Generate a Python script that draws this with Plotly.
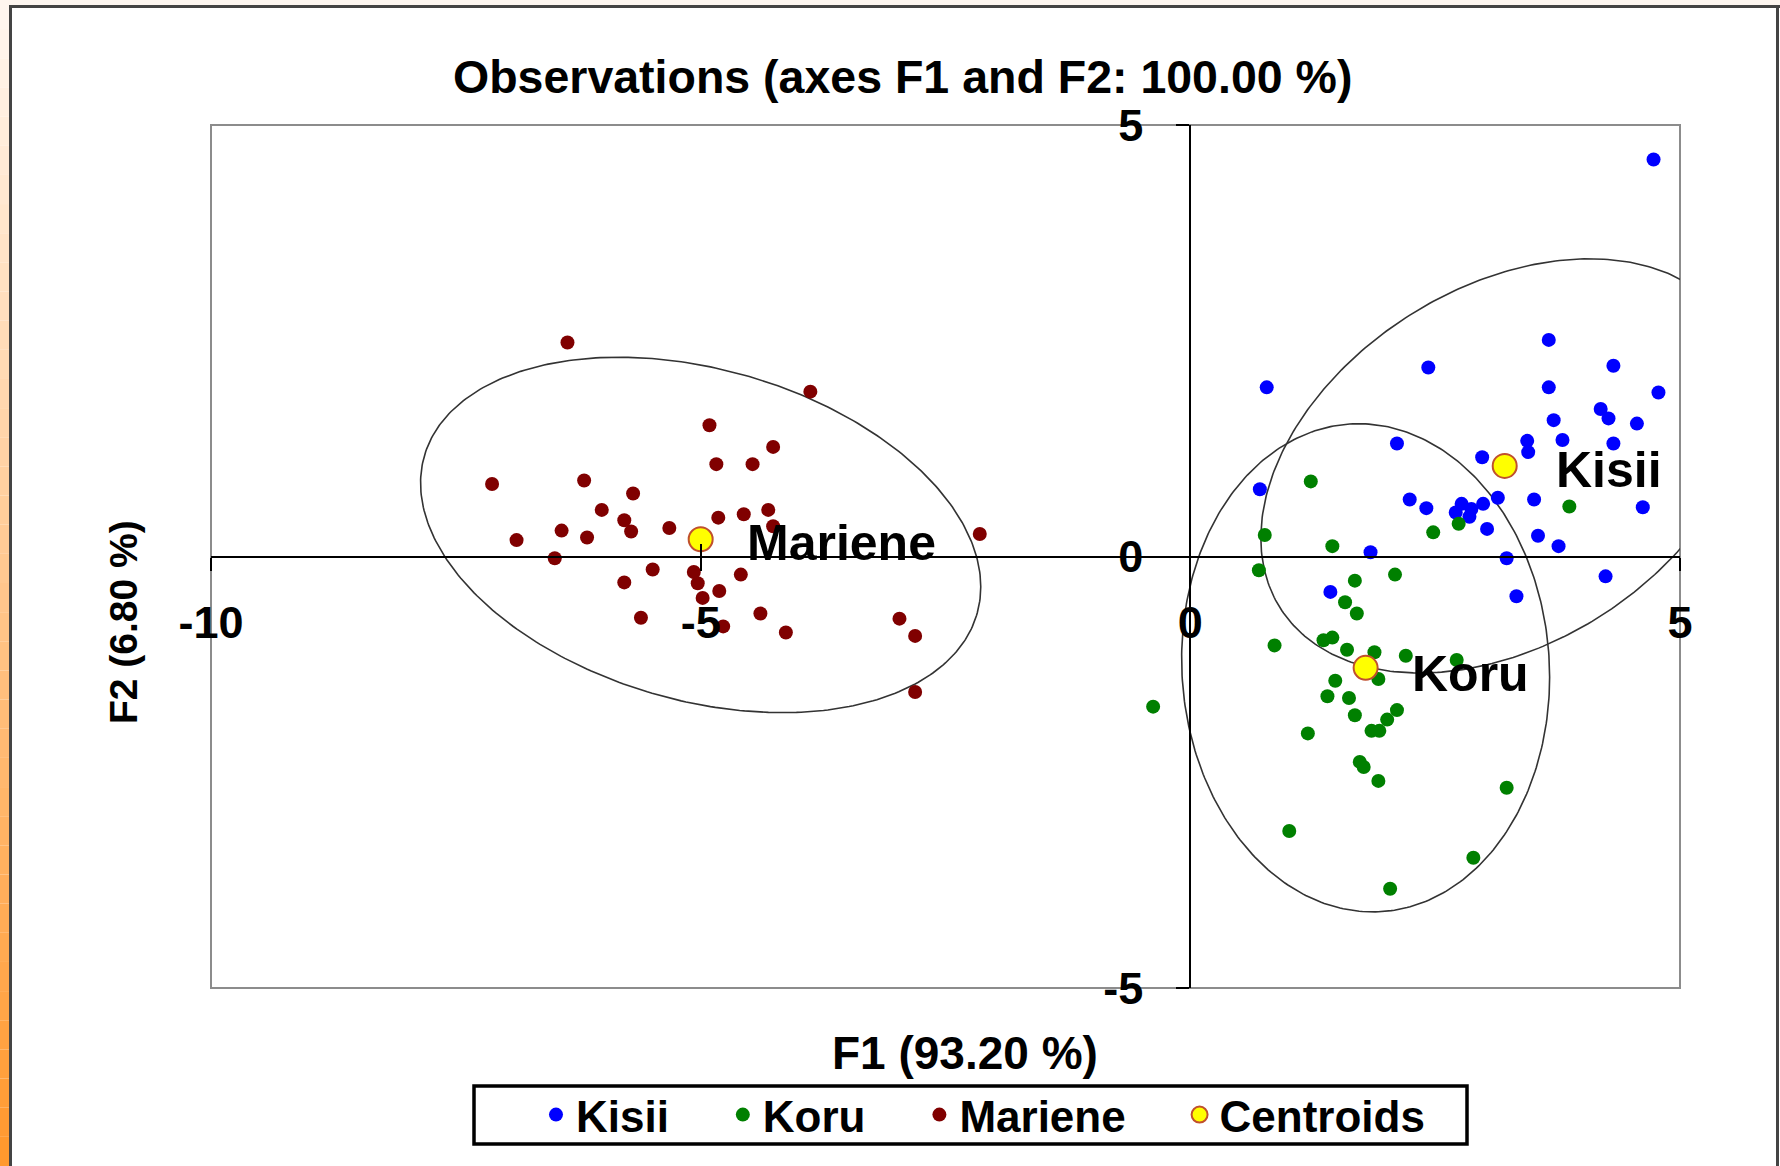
import numpy as np
import plotly.graph_objects as go

# ---------------- data ----------------
kisii_x = [4.73, 3.66, 2.43, 4.32, 0.78, 3.66, 4.78, 4.19, 4.27, 3.71, 4.56, 3.44, 3.80, 4.32, 2.11, 3.45,
           2.98, 0.71, 2.24, 2.41, 2.77, 2.87, 2.99, 2.71, 2.85, 3.14, 3.51, 4.62, 3.03, 3.55, 3.76, 1.84,
           3.23, 4.24, 1.43, 3.33]
kisii_y = [4.60, 2.51, 2.19, 2.21, 1.96, 1.96, 1.90, 1.71, 1.60, 1.58, 1.54, 1.34, 1.35, 1.31, 1.31, 1.21,
           1.15, 0.78, 0.66, 0.56, 0.61, 0.55, 0.61, 0.51, 0.46, 0.68, 0.66, 0.57, 0.32, 0.24, 0.12, 0.05,
           -0.02, -0.23, -0.41, -0.46]

koru_x = [1.23, 3.87, 2.74, 2.48, 0.76, 1.45, 0.70, 2.09, 1.68, 1.58, 1.70, 1.36, 1.45, 0.86, 1.60, 1.88,
          2.20, 2.72, 1.92, 1.48, 1.40, 1.62, 2.11, 1.68, 2.01, 1.85, 1.93, 1.20, -0.38, 1.73, 1.77, 1.92,
          3.23, 1.01, 2.89, 2.04]
koru_y = [0.87, 0.58, 0.38, 0.28, 0.25, 0.12, -0.16, -0.21, -0.28, -0.53, -0.66, -0.97, -0.94, -1.03, -1.08,
          -1.11, -1.15, -1.20, -1.42, -1.44, -1.62, -1.64, -1.78, -1.84, -1.89, -2.02, -2.02, -2.05, -1.74,
          -2.38, -2.44, -2.60, -2.68, -3.18, -3.49, -3.85]

mariene_x = [-6.36, -3.88, -4.91, -4.26, -4.84, -4.47, -7.13, -6.19, -5.69, -6.01, -5.78, -5.71, -6.42, -6.16,
             -6.88, -5.32, -4.82, -4.56, -4.31, -4.26, -2.15, -6.49, -5.49, -5.07, -4.59, -5.78, -5.03, -4.81,
             -4.98, -5.61, -4.39, -4.77, -4.13, -2.97, -2.81, -2.81]
mariene_y = [2.48, 1.91, 1.52, 1.27, 1.07, 1.07, 0.84, 0.88, 0.73, 0.54, 0.42, 0.29, 0.30, 0.22, 0.19, 0.33,
             0.45, 0.49, 0.54, 0.35, 0.26, -0.02, -0.15, -0.18, -0.21, -0.30, -0.31, -0.40, -0.48, -0.71,
             -0.66, -0.81, -0.88, -0.72, -0.92, -1.57]

centroid_names = ["Kisii", "Koru", "Mariene"]
centroid_x = [3.21, 1.79, -5.00]
centroid_y = [1.05, -1.29, 0.20]

# label anchor (left-middle) positions for centroid labels
label_x = [3.71, 2.24, -4.55]
label_y = [1.00, -1.36, 0.16]

# confidence ellipses: center + (var_x, var_y, cov_xy)
ell_cx = [3.21, 1.79, -5.00]
ell_cy = [1.05, -1.29, 0.25]
ell_sxx = [6.20, 3.53, 8.18]
ell_syy = [5.76, 8.00, 4.24]
ell_sxy = [2.08, -0.20, -1.72]

x_ticks = [-10, -5, 0, 5]
y_ticks = [-5, 0, 5]

legend_names = ["Kisii", "Koru", "Mariene", "Centroids"]

# ---------------- layout geometry ----------------
W, H = 1780, 1166
L, R, T, B = 211, 100, 125, 178
PW, PH = W - L - R, H - T - B


def px(xp):
    return (xp - L) / PW


def py(yp):
    return (H - B - yp) / PH


FONT = "Liberation Sans, Arial, sans-serif"
PAD = "\u00a0" * 4

fig = go.Figure()

# ellipses
t = np.linspace(0, 2 * np.pi, 361)
for cx, cy, sxx, syy, sxy in zip(ell_cx, ell_cy, ell_sxx, ell_syy, ell_sxy):
    l11 = np.sqrt(sxx)
    l21 = sxy / l11
    l22 = np.sqrt(syy - l21 ** 2)
    ex = cx + l11 * np.cos(t)
    ey = cy + l21 * np.cos(t) + l22 * np.sin(t)
    fig.add_trace(go.Scatter(x=ex, y=ey, mode="lines", line=dict(color="#333333", width=1.6),
                             showlegend=False, hoverinfo="skip"))

fig.add_trace(go.Scatter(x=kisii_x, y=kisii_y, mode="markers", name=legend_names[0] + PAD,
                         marker=dict(color="#0000FF", size=14)))
fig.add_trace(go.Scatter(x=koru_x, y=koru_y, mode="markers", name=legend_names[1] + PAD,
                         marker=dict(color="#008000", size=14)))
fig.add_trace(go.Scatter(x=mariene_x, y=mariene_y, mode="markers", name=legend_names[2] + PAD,
                         marker=dict(color="#800000", size=14)))
fig.add_trace(go.Scatter(x=centroid_x, y=centroid_y, mode="markers", name=legend_names[3],
                         text=centroid_names,
                         marker=dict(color="#FFFF00", size=24, line=dict(color="#C0502D", width=2))))
# dummy trace to materialise the cross-tick overlay axes
fig.add_trace(go.Scatter(x=[None], y=[None], xaxis="x2", yaxis="y2", showlegend=False, hoverinfo="skip"))

for nm, lx, ly in zip(centroid_names, label_x, label_y):
    fig.add_annotation(x=lx, y=ly, xref="x", yref="y", text="<b>%s</b>" % nm, showarrow=False,
                       xanchor="left", yanchor="middle", font=dict(family=FONT, size=50, color="black"))

# title and axis titles
fig.add_annotation(x=px(902), y=py(77), xref="paper", yref="paper",
                   text="<b>Observations (axes F1 and F2: 100.00 %)</b>", showarrow=False,
                   xanchor="center", yanchor="middle", font=dict(family=FONT, size=46.5, color="black"))
fig.add_annotation(x=px(965), y=py(1053), xref="paper", yref="paper",
                   text="<b>F1 (93.20 %)</b>", showarrow=False,
                   xanchor="center", yanchor="middle", font=dict(family=FONT, size=46, color="black"))
fig.add_annotation(x=px(123), y=py(622), xref="paper", yref="paper",
                   text="<b>F2 (6.80 %)</b>", showarrow=False, textangle=-90,
                   xanchor="center", yanchor="middle", font=dict(family=FONT, size=39, color="black"))

shapes = []
# plot frame
shapes.append(dict(type="rect", xref="paper", yref="paper", x0=0, x1=1, y0=0, y1=1,
                   line=dict(color="#8c8c8c", width=2), layer="below"))
# page decoration: top light strip, left orange gradient strip, dark frame
shapes.append(dict(type="rect", xref="paper", yref="paper", x0=px(0), x1=px(W), y0=py(0), y1=py(5),
                   fillcolor="#FDF6F0", line=dict(width=0), layer="below"))
n_seg = 40
c0 = np.array([0xFF, 0xF8, 0xF2])
c1 = np.array([0xFF, 0x98, 0x2C])
for i in range(n_seg):
    f = (i + 0.5) / n_seg
    c = (c0 + (c1 - c0) * f).astype(int)
    shapes.append(dict(type="rect", xref="paper", yref="paper", x0=px(0), x1=px(9.5),
                       y0=py(H * (i + 1) / n_seg), y1=py(H * i / n_seg),
                       fillcolor="rgb(%d,%d,%d)" % tuple(c), line=dict(width=0), layer="below"))
shapes.append(dict(type="rect", xref="paper", yref="paper", x0=px(9), x1=px(W), y0=py(8), y1=py(5),
                   fillcolor="#444444", line=dict(width=0)))
shapes.append(dict(type="rect", xref="paper", yref="paper", x0=px(9), x1=px(12), y0=py(H), y1=py(5),
                   fillcolor="#444444", line=dict(width=0)))
shapes.append(dict(type="rect", xref="paper", yref="paper", x0=px(1776), x1=px(1779), y0=py(H), y1=py(5),
                   fillcolor="#444444", line=dict(width=0)))
# legend box
shapes.append(dict(type="rect", xref="paper", yref="paper", x0=px(474), x1=px(1467), y0=py(1144), y1=py(1086),
                   line=dict(color="black", width=3.5), fillcolor="white", layer="below"))

tickfont = dict(family=FONT, size=45, color="black", weight="bold")
xpos = (0 - (-5)) / 10
ypos = (0 - (-10)) / 15

fig.update_layout(
    width=W, height=H,
    margin=dict(l=L, r=R, t=T, b=B, autoexpand=False),
    paper_bgcolor="white", plot_bgcolor="white",
    shapes=shapes,
    showlegend=True,
    legend=dict(orientation="h", x=px(536), xanchor="left", y=py(1115), yanchor="middle",
                bgcolor="rgba(0,0,0,0)", borderwidth=0,
                font=dict(family=FONT, size=44, color="black", weight="bold"),
                itemwidth=30),
    xaxis=dict(range=[-10, 5], domain=[0, 1], anchor="free", position=xpos,
               showline=True, linecolor="black", linewidth=2, zeroline=False, showgrid=False,
               ticks="outside", ticklen=13, tickwidth=2, tickcolor="black",
               tickvals=x_ticks, ticktext=[str(v) for v in x_ticks], tickfont=tickfont,
               ticklabelstandoff=13, automargin=False, fixedrange=True),
    yaxis=dict(range=[-5, 5], domain=[0, 1], anchor="free", position=ypos,
               showline=True, linecolor="black", linewidth=2, zeroline=False, showgrid=False,
               ticks="outside", ticklen=13, tickwidth=2, tickcolor="black",
               tickvals=y_ticks, ticktext=[str(v) for v in y_ticks], tickfont=tickfont,
               ticklabelstandoff=24, automargin=False, fixedrange=True),
    xaxis2=dict(range=[-10, 5], overlaying="x", anchor="free", position=xpos, showline=False,
                zeroline=False, showgrid=False, ticks="inside", ticklen=13, tickwidth=2, tickcolor="black",
                tickvals=x_ticks, showticklabels=False, fixedrange=True),
    yaxis2=dict(range=[-5, 5], overlaying="y", anchor="free", position=ypos, showline=False,
                zeroline=False, showgrid=False, ticks="inside", ticklen=13, tickwidth=2, tickcolor="black",
                tickvals=y_ticks, showticklabels=False, fixedrange=True),
)

fig.write_html("out.html", config={"displayModeBar": False},
               post_script="document.body.style.margin='0';document.body.style.overflow='hidden';")
